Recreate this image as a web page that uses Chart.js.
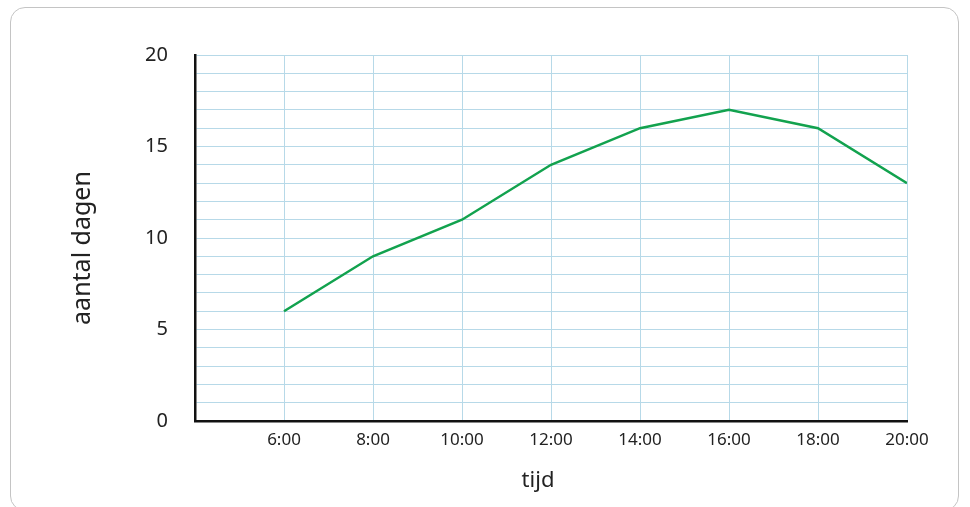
<!DOCTYPE html>
<html>
<head>
<meta charset="utf-8">
<script src="https://cdn.jsdelivr.net/npm/chart.js@4"></script>
<style>
  html, body { margin: 0; padding: 0; background: #fff; overflow: hidden; }
  #frame {
    position: absolute; left: 10px; top: 7px; width: 949px; height: 504px;
    border: 1.5px solid #c4c4c4; border-radius: 15px; box-sizing: border-box;
  }
  #wrap { position: absolute; left: 0; top: 0; width: 970px; height: 507px; }
</style>
</head>
<body>
<div id="frame"></div>
<div id="wrap"><canvas id="chart"></canvas></div>
<script>
// Data
const hours = [6, 8, 10, 12, 14, 16, 18, 20];
const days = [6, 9, 11, 14, 16, 17, 16, 13];
const xTitle = 'tijd';
const yTitle = 'aantal dagen';

const gridBlue = '#b7d9e8';
const textColor = '#222';
const fontFamily = "'Noto Sans', 'Open Sans', sans-serif";

const points = hours.map((h, i) => ({ x: h, y: days[i] }));

// axis titles sit a little off-centre in the original, so draw them here
const axisTitles = {
  id: 'axisTitles',
  afterDraw(chart) {
    const { ctx, chartArea } = chart;
    ctx.save();
    ctx.fillStyle = textColor;
    ctx.textAlign = 'center';
    ctx.textBaseline = 'middle';
    ctx.font = `22px ${fontFamily}`;
    ctx.fillText(xTitle, (chartArea.left + chartArea.right) / 2 - 13, 481);
    ctx.translate(83, (chartArea.top + chartArea.bottom) / 2 + 10);
    ctx.rotate(-Math.PI / 2);
    ctx.font = `25px ${fontFamily}`;
    ctx.fillText(yTitle, 0, 0);
    ctx.restore();
  }
};

const ctx = document.getElementById('chart').getContext('2d');
new Chart(ctx, {
  type: 'line',
  data: {
    datasets: [{
      data: points,
      borderColor: '#12a24e',
      borderWidth: 2.5,
      pointRadius: 0,
      tension: 0,
      fill: false
    }]
  },
  options: {
    responsive: true,
    maintainAspectRatio: false,
    animation: false,
    layout: { padding: { left: 10, top: 55, right: 63, bottom: 0 } },
    plugins: { legend: { display: false }, tooltip: { enabled: false } },
    scales: {
      x: {
        type: 'linear',
        min: 4,
        max: 20,
        border: { display: true, color: '#111', width: 2.5 },
        grid: { color: gridBlue, lineWidth: 1, drawTicks: false },
        ticks: {
          stepSize: 2,
          padding: 9,
          color: textColor,
          font: { family: fontFamily, size: 17 },
          callback: v => v === 4 ? '' : v + ':00'
        },
        afterFit: scale => { scale.height = 507 - 421; }
      },
      y: {
        min: 0,
        max: 20,
        border: { display: true, color: '#111', width: 2.5 },
        grid: { color: gridBlue, lineWidth: 1, drawTicks: false },
        ticks: {
          stepSize: 1,
          autoSkip: false,
          padding: 27,
          color: textColor,
          font: { family: fontFamily, size: 20 },
          callback: v => v % 5 === 0 ? v : ''
        },
        afterFit: scale => { scale.width = 195 - 10; }
      }
    }
  },
  plugins: [axisTitles]
});
</script>
</body>
</html>
